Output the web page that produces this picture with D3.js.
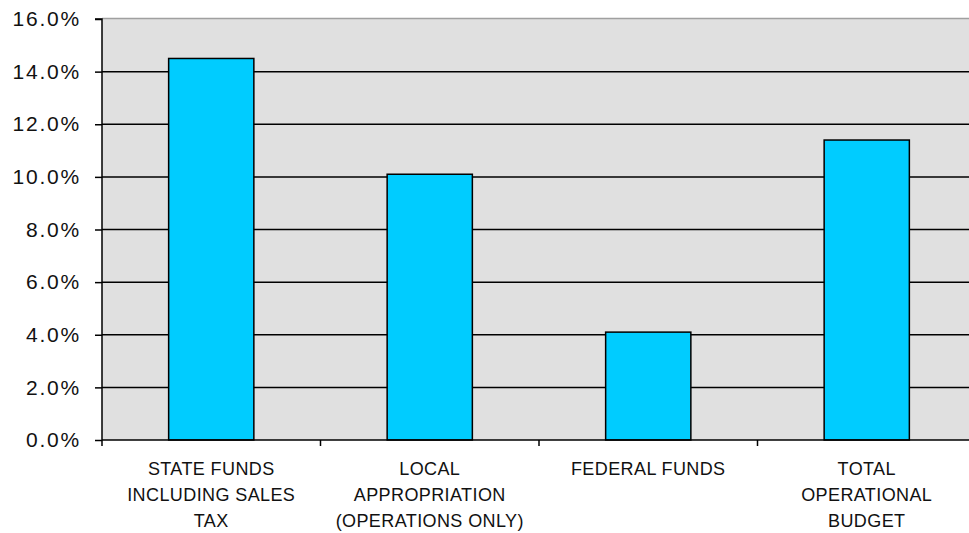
<!DOCTYPE html>
<html><head><meta charset="utf-8">
<script src="https://cdn.jsdelivr.net/npm/d3@7"></script>
<style>body{margin:0;background:#fff}svg{display:block}</style>
</head><body><svg id="c" width="969" height="533"></svg>
<script>
const categories = [
  ["STATE FUNDS","INCLUDING SALES","TAX"],
  ["LOCAL","APPROPRIATION","(OPERATIONS ONLY)"],
  ["FEDERAL FUNDS"],
  ["TOTAL","OPERATIONAL","BUDGET"]
];
const values = [14.5, 10.1, 4.1, 11.4];
const yTicks = [0, 2, 4, 6, 8, 10, 12, 14, 16];

const svg = d3.select("#c");
const L = 102, R = 976, T = 19, B = 440;
const x = d3.scaleBand().domain(d3.range(categories.length)).range([L, R]).paddingInner(0).paddingOuter(0);
const y = d3.scaleLinear().domain([0, 16]).range([B, T]);

svg.append("rect").attr("x", L).attr("y", T).attr("width", R - L).attr("height", B - T).attr("fill", "#e0e0e0");
svg.append("line").attr("x1", L).attr("x2", R).attr("y1", T - 0.5).attr("y2", T - 0.5).attr("stroke", "#a0a0a0").attr("stroke-width", 1.5);

// gridlines
svg.append("g").selectAll("line").data(yTicks.filter(d => d > 0 && d < 16)).join("line")
  .attr("x1", L).attr("x2", R).attr("y1", d => y(d)).attr("y2", d => y(d))
  .attr("stroke", "#000").attr("stroke-width", 1.5);

// bars
const bw = x.bandwidth() * 0.39;
svg.append("g").selectAll("rect").data(values).join("rect")
  .attr("x", (d, i) => x(i) + x.bandwidth() / 2 - bw / 2)
  .attr("y", d => y(d)).attr("width", bw).attr("height", d => B - y(d))
  .attr("fill", "#00ccff").attr("stroke", "#000").attr("stroke-width", 1.5);

// y axis
const yAxis = d3.axisLeft(y).tickValues(yTicks).tickFormat(d => d.toFixed(1) + "%").tickSize(7).tickPadding(14);
const gy = svg.append("g").attr("transform", `translate(${L},0)`).call(yAxis);
gy.select(".domain").attr("stroke", "#000").attr("stroke-width", 1.5).attr("d", `M-7,${T}H0V${B}`);
gy.selectAll(".tick line").attr("stroke", "#000").attr("stroke-width", 1.5);
gy.selectAll(".tick text").attr("fill", "#111").style("font-family", "'Liberation Sans', Arial, sans-serif")
  .style("font-size", "21px").style("letter-spacing", "1.8px");

// x axis
const xAxis = d3.axisBottom(x).tickValues([]).tickSize(0);
const gx = svg.append("g").attr("transform", `translate(0,${B})`);
gx.append("line").attr("x1", L).attr("x2", R).attr("stroke", "#000").attr("stroke-width", 1.5);
const bounds = d3.range(categories.length + 1).map(i => L + i * x.step());
gx.selectAll("line.tk").data(bounds).join("line").attr("class", "tk")
  .attr("x1", d => d).attr("x2", d => d).attr("y1", 0).attr("y2", 6)
  .attr("stroke", "#000").attr("stroke-width", 1.5);

const lab = svg.append("g").style("font-family", "'Liberation Sans', Arial, sans-serif")
  .style("font-size", "18px").style("letter-spacing", "0.4px").attr("fill", "#111");
categories.forEach((lines, i) => {
  const t = lab.append("text").attr("text-anchor", "middle");
  lines.forEach((s, j) => {
    t.append("tspan").attr("x", x(i) + x.bandwidth() / 2).attr("y", 475 + j * 26).text(s);
  });
});
</script></body></html>
